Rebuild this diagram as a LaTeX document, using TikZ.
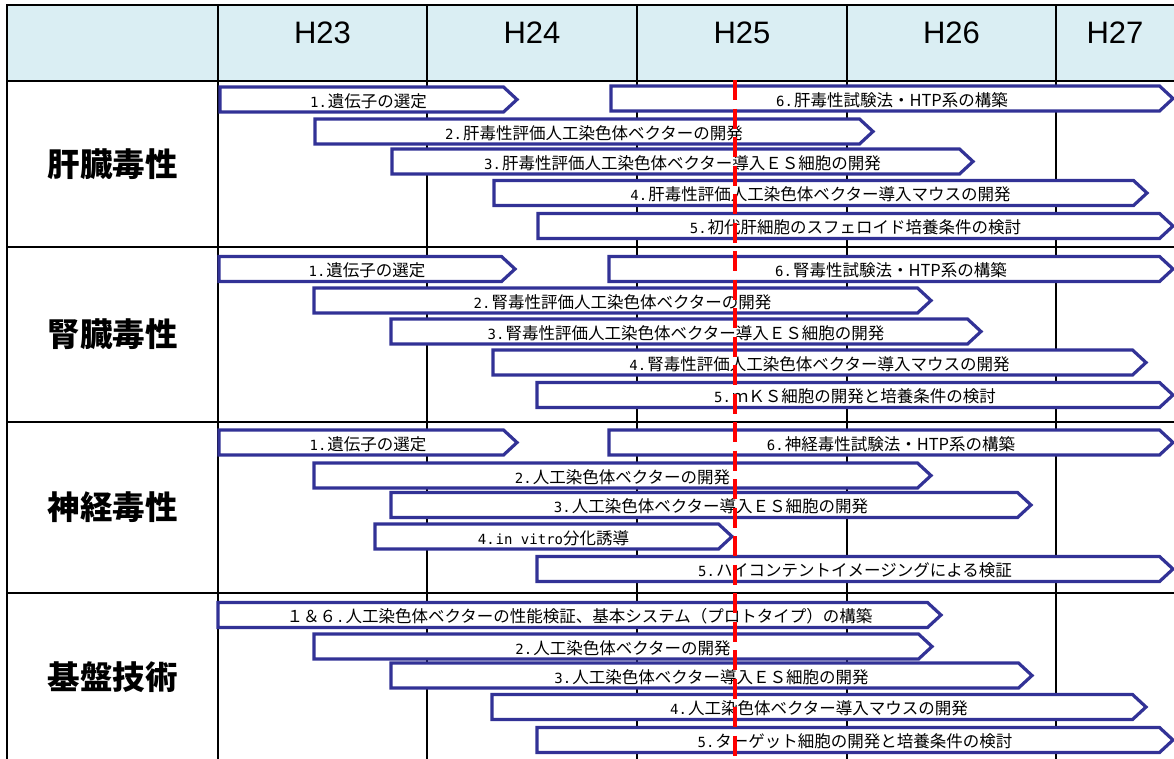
\documentclass[tikz,border=0pt]{standalone}
\usepackage{fontspec}
\newfontfamily\jpfont{Noto Sans CJK JP}
\newfontfamily\hdfont{Liberation Sans}
\newfontfamily\ascfont{DejaVu Sans Mono}
\definecolor{hdrfill}{RGB}{218,238,243}
\definecolor{barblue}{RGB}{50,50,150}
% item number in half-width monospace cells, e.g. "1."
\newcommand\nd[1]{{\ascfont\fontsize{14}{16}\selectfont#1.}\kern1pt}
\newcommand\asc[1]{{\ascfont\fontsize{14}{16}\selectfont#1}}
% schedule bar: name, left x, tip x, centre y, label
\newcommand\schedbar[5]{%
  \draw[barline] (#2,#4-12.5) -- (#3-13.5,#4-12.5) -- (#3,#4)
    -- (#3-13.5,#4+12.5) -- (#2,#4+12.5) -- cycle;
  \node[bartext] (#1) at ({(#2+#3)/2},#4+7.5) {#5};}
\begin{document}
\begin{tikzpicture}[x=1pt,y=-1pt,
  gridline/.style={line width=2.4pt,black,line cap=rect},
  barline/.style={draw=barblue,fill=white,line width=3.2pt,line join=miter},
  bartext/.style={anchor=base,inner sep=0pt,font=\jpfont\fontsize{16.5}{18}\selectfont},
  hdtext/.style={anchor=base,inner sep=0pt,font=\hdfont\fontsize{31}{34}\selectfont},
  sectext/.style={inner sep=0pt,font=\jpfont\bfseries\fontsize{32.5}{35}\selectfont},
  nowline/.style={red,line width=3.6pt,dash pattern=on 20pt off 8.5pt}]
\useasboundingbox (0,0) rectangle (1174,758);

% header band
\fill[hdrfill] (7,5) rectangle (1174,81);

% table rules
\foreach \y in {5,81,247,422,593} \draw[gridline] (7,\y) -- (1174,\y);
\foreach \x in {7,218,427,637,847,1056} \draw[gridline] (\x,5) -- (\x,758);

% year headings
\node[hdtext] (h23) at (322.5,43.5) {H23};
\node[hdtext] (h24) at (532,43.5) {H24};
\node[hdtext] (h25) at (742,43.5) {H25};
\node[hdtext] (h26) at (951.5,43.5) {H26};
\node[hdtext] (h27) at (1115,43.5) {H27};

% section titles
\node[sectext] (liver)  at (112.5,164) {肝臓毒性};
\node[sectext] (kidney) at (112.5,334.5) {腎臓毒性};
\node[sectext] (nerve)  at (112.5,507.5) {神経毒性};
\node[sectext] (base)   at (112.5,677) {基盤技術};

% liver toxicity
\schedbar{s1a}{220}{517}{99.5}{\nd{1}遺伝子の選定}
\schedbar{s1f}{611}{1173}{98.5}{\nd{6}肝毒性試験法・HTP系の構築}
\schedbar{s1b}{315}{873}{131.5}{\nd{2}肝毒性評価人工染色体ベクターの開発}
\schedbar{s1c}{392}{973}{161.5}{\nd{3}肝毒性評価人工染色体ベクター導入ＥＳ細胞の開発}
\schedbar{s1d}{494}{1147}{193}{\nd{4}肝毒性評価人工染色体ベクター導入マウスの開発}
\schedbar{s1e}{538}{1173}{226}{\nd{5}初代肝細胞のスフェロイド培養条件の検討}

% kidney toxicity
\schedbar{s2a}{219}{515}{269}{\nd{1}遺伝子の選定}
\schedbar{s2f}{609}{1173}{269}{\nd{6}腎毒性試験法・HTP系の構築}
\schedbar{s2b}{314}{931}{300.5}{\nd{2}腎毒性評価人工染色体ベクターの開発}
\schedbar{s2c}{391}{981}{331.5}{\nd{3}腎毒性評価人工染色体ベクター導入ＥＳ細胞の開発}
\schedbar{s2d}{493}{1146}{362.5}{\nd{4}腎毒性評価人工染色体ベクター導入マウスの開発}
\schedbar{s2e}{537}{1173}{395}{\nd{5}ｍＫＳ細胞の開発と培養条件の検討}

% neurotoxicity
\schedbar{s3a}{219}{517}{442.5}{\nd{1}遺伝子の選定}
\schedbar{s3f}{609}{1173}{442.5}{\nd{6}神経毒性試験法・HTP系の構築}
\schedbar{s3b}{314}{931}{475.5}{\nd{2}人工染色体ベクターの開発}
\schedbar{s3c}{391}{1031}{505}{\nd{3}人工染色体ベクター導入ＥＳ細胞の開発}
\schedbar{s3d}{375}{732}{536.5}{\nd{4}\asc{in vitro}分化誘導}
\schedbar{s3e}{537}{1173}{569}{\nd{5}ハイコンテントイメージングによる検証}

% base technology
\schedbar{s4a}{218}{941}{615}{１＆６\asc{.}\kern1pt 人工染色体ベクターの性能検証、基本システム（プロトタイプ）の構築}
\schedbar{s4b}{314}{932}{646.5}{\nd{2}人工染色体ベクターの開発}
\schedbar{s4c}{391}{1032}{675.5}{\nd{3}人工染色体ベクター導入ＥＳ細胞の開発}
\schedbar{s4d}{492}{1146}{707}{\nd{4}人工染色体ベクター導入マウスの開発}
\schedbar{s4e}{537}{1173}{740}{\nd{5}ターゲット細胞の開発と培養条件の検討}

% current-date marker
\coordinate (nowtop) at (735,80);
\coordinate (nowbot) at (735,758);
\draw[nowline] (nowtop) -- (nowbot);
\end{tikzpicture}
\end{document}
